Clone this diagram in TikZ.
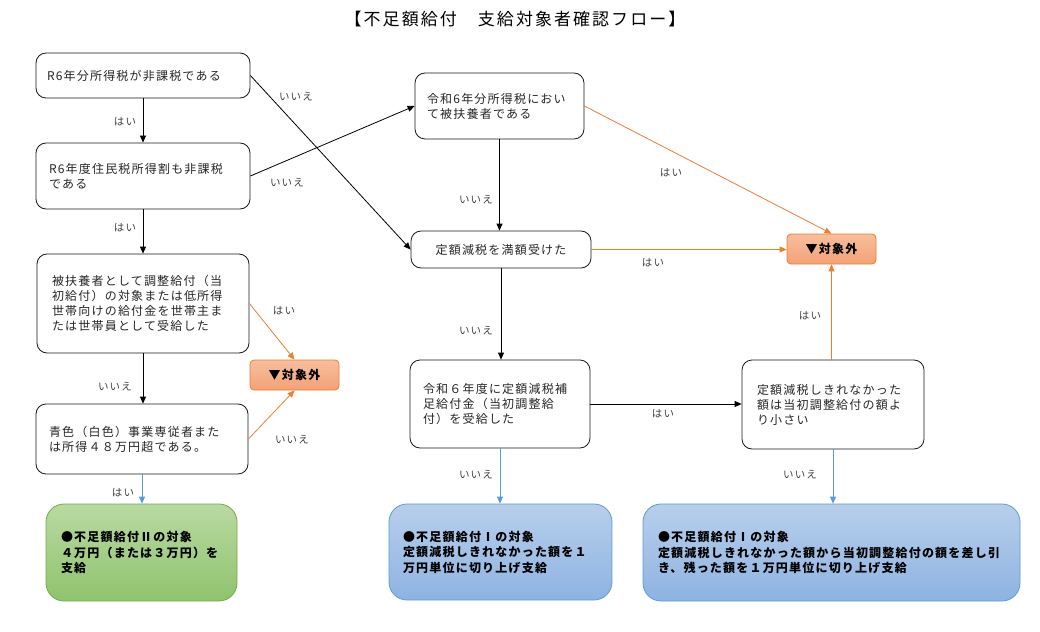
\documentclass[tikz,border=0pt]{standalone}
\usepackage{fontspec}
\setmainfont{Noto Sans CJK JP}[LetterSpace=10]
\newfontfamily\titlefont{Noto Sans CJK JP}[LetterSpace=12]
\usetikzlibrary{arrows.meta}
\definecolor{orgline}{HTML}{ED7D31}
\definecolor{orgtop}{HTML}{F7BE9E}
\definecolor{orgbot}{HTML}{F3A275}
\definecolor{grnline}{HTML}{70AD47}
\definecolor{grntop}{HTML}{B9D9A3}
\definecolor{grnbot}{HTML}{90C36D}
\definecolor{bluline}{HTML}{5B9BD5}
\definecolor{blutop}{HTML}{B8CFEB}
\definecolor{blubot}{HTML}{8DB3E2}
\definecolor{txt}{HTML}{262626}
\tikzset{
  wbox/.style={draw=black!90, line width=0.8pt, rounded corners=10pt, fill=white,
    align=left, inner ysep=0pt, font=\fontsize{12}{15}\selectfont, text=txt},
  obox/.style={draw=orgline, line width=0.8pt, rounded corners=4pt, top color=orgtop,
    bottom color=orgbot, align=center, minimum width=89pt, minimum height=30pt,
    inner sep=0pt, font=\fontsize{12}{15}\selectfont\bfseries, text=black},
  gbox/.style={draw=grnline, line width=0.8pt, rounded corners=18pt, top color=grntop,
    bottom color=grnbot, align=left, inner ysep=0pt, font=\fontsize{12}{15.5}\selectfont\bfseries, text=black},
  bbox/.style={draw=bluline, line width=0.8pt, rounded corners=18pt, top color=blutop,
    bottom color=blubot, align=left, inner ysep=0pt, font=\fontsize{12}{15.5}\selectfont\bfseries, text=black},
  lbl/.style={font=\fontsize{10.5}{12}\selectfont, text=black!75, inner sep=0pt},
  blk/.style={draw=black, line width=0.8pt, -{Triangle[length=7pt,width=6pt]}},
  org/.style={draw=orgline, line width=0.8pt, -{Triangle[length=7pt,width=6pt]}},
  blu/.style={draw=bluline, line width=0.8pt, -{Triangle[length=7pt,width=6pt]}},
}
\begin{document}
\begin{tikzpicture}[x=1pt,y=-1pt]
\useasboundingbox (0,0) rectangle (1040,631);
\node[font=\titlefont\fontsize{17}{20}\selectfont, text=black, inner sep=0pt] (title) at (515,19) {【不足額給付　支給対象者確認フロー】};

% left column
\node[wbox, text width=192pt, inner xsep=11pt, minimum height=45pt] (A) at (143,75.5) {R6年分所得税が非課税である};
\node[wbox, text width=188pt, inner xsep=13pt, minimum height=66pt] (B) at (143,176) {R6年度住民税所得割も非課税\\である};
\node[wbox, text width=182pt, inner xsep=15pt, minimum height=99pt] (C) at (143,303.5) {被扶養者として調整給付（当\\初給付）の対象または低所得\\世帯向けの給付金を世帯主ま\\たは世帯員として受給した};
\node[wbox, text width=186pt, inner xsep=13pt, minimum height=70pt] (D) at (142,439) {青色（白色）事業専従者また\\は所得４８万円超である。};
\node[obox] (E) at (294.5,375) {▼対象外};
\node[gbox, text width=161pt, inner xsep=15pt, minimum height=97pt] (K) at (141.5,552.5) {●不足額給付Ⅱの対象\\４万円（または３万円）を\\支給};

% middle column
\node[wbox, text width=145pt, inner xsep=12pt, minimum height=66pt] (F) at (499.5,106) {令和6年分所得税におい\\て被扶養者である};
\node[wbox, align=center, text width=160pt, inner xsep=10pt, minimum height=37pt] (G) at (501,249.5) {定額減税を満額受けた};
\node[wbox, text width=154pt, inner xsep=13pt, minimum height=88pt] (H) at (500,404) {令和６年度に定額減税補\\足給付金（当初調整給\\付）を受給した};
\node[bbox, text width=195pt, inner xsep=14pt, minimum height=96pt] (L) at (500.5,552) {●不足額給付Ⅰの対象\\定額減税しきれなかった額を１\\万円単位に切り上げ支給};

% right column
\node[obox] (J) at (831.5,249) {▼対象外};
\node[wbox, text width=152pt, inner xsep=15pt, minimum height=89pt] (I) at (833,404.5) {定額減税しきれなかった\\額は当初調整給付の額よ\\り小さい};
\node[bbox, text width=347pt, inner xsep=15pt, minimum height=97pt] (M) at (831.5,552.5) {●不足額給付Ⅰの対象\\定額減税しきれなかった額から当初調整給付の額を差し引\\き、残った額を１万円単位に切り上げ支給};

% connectors
\draw[blk] (A) -- (B);
\draw[blk] (B) -- (C);
\draw[blk] (C.south) -- (C.south |- D.north);
\draw[blu] (D.south) -- (D.south |- K.north);
\draw[blk] (A.east) -- (G.west);
\draw[blk] (B.east) -- (F.west);
\draw[org] (C.east) -- (E.north);
\draw[org] (D.east) -- (E.south);
\draw[blk] (F.south) -- (F.south |- G.north);
\draw[org] (F.east) -- (J.north);
\draw[org] (G.east) -- (G.east -| J.west);
\draw[blk] (G.south) -- (G.south |- H.north);
\draw[blk] (H.east) -- (H.east -| I.west);
\draw[org] (I.north -| J.south) -- (J.south);
\draw[blu] (H.south) -- (H.south |- L.north);
\draw[blu] (I.south) -- (I.south |- M.north);

% labels
\node[lbl] (l1) at (125,122) {はい};
\node[lbl] (l2) at (125,228) {はい};
\node[lbl] (l3) at (115,387) {いいえ};
\node[lbl] (l4) at (123,493) {はい};
\node[lbl] (l5) at (296,97) {いいえ};
\node[lbl] (l6) at (287,183) {いいえ};
\node[lbl] (l7) at (284,311) {はい};
\node[lbl] (l8) at (292,440) {いいえ};
\node[lbl] (l9) at (476,200) {いいえ};
\node[lbl] (l10) at (671,173) {はい};
\node[lbl] (l11) at (653,263) {はい};
\node[lbl] (l12) at (476,331) {いいえ};
\node[lbl] (l13) at (663,414) {はい};
\node[lbl] (l14) at (810,316) {はい};
\node[lbl] (l15) at (476,475) {いいえ};
\node[lbl] (l16) at (800,475) {いいえ};
\end{tikzpicture}
\end{document}
